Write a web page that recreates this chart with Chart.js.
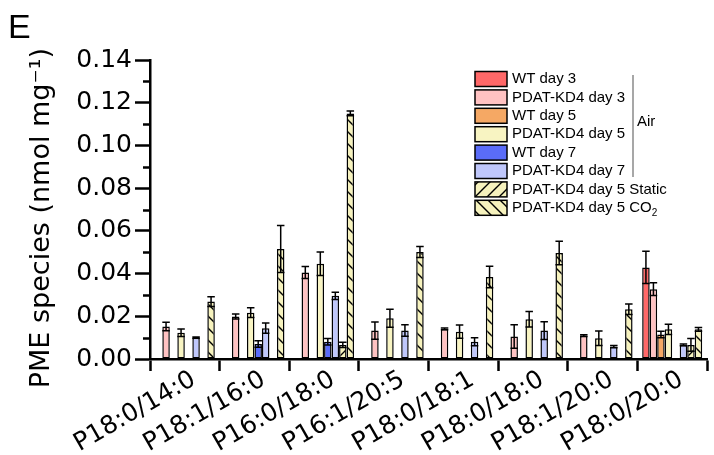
<!DOCTYPE html>
<html>
<head>
<meta charset="utf-8">
<script src="https://cdn.jsdelivr.net/npm/chart.js@4.4.0/dist/chart.umd.min.js"></script>
<style>
  html, body { margin: 0; padding: 0; background: #fff; }
  #wrap { width: 714px; height: 455px; position: relative; }
</style>
</head>
<body>
<div id="wrap"><canvas id="chartCanvas" width="714" height="455"></canvas></div>
<script>
// lipid species on the x axis
const species = ["P18:0/14:0", "P18:1/16:0", "P16:0/18:0", "P16:1/20:5", "P18:0/18:1", "P18:0/18:0", "P18:1/20:0", "P18:0/20:0"];
const seriesNames = ["WT day 3", "PDAT-KD4 day 3", "WT day 5", "PDAT-KD4 day 5", "WT day 7", "PDAT-KD4 day 7", "PDAT-KD4 day 5 Static", "PDAT-KD4 day 5 CO2"];

// means (nmol mg-1), null = not shown
const wtDay3      = [null, null, null, null, null, null, null, 0.0429];
const kdDay3      = [0.0152, 0.0199, 0.0405, 0.0133, 0.0141, 0.0105, 0.0109, 0.0327];
const wtDay5      = [null, null, null, null, null, null, null, 0.0115];
const kdDay5      = [0.0123, 0.0217, 0.0446, 0.0191, 0.0128, 0.0186, 0.0097, 0.0139];
const wtDay7      = [null, 0.0070, 0.0081, null, null, null, null, null];
const kdDay7      = [0.0100, 0.0144, 0.0296, 0.0133, 0.0081, 0.0133, 0.0058, 0.0066];
const kdDay5Stat  = [null, null, 0.0066, null, null, null, null, 0.0066];
const kdDay5Co2   = [0.0269, 0.0515, 0.1150, 0.0501, 0.0384, 0.0496, 0.0233, 0.0139];

// standard deviations
const wtDay3Sd     = [0, 0, 0, 0, 0, 0, 0, 0.0075];
const kdDay3Sd     = [0.0020, 0.0012, 0.0028, 0.0040, 0.0004, 0.0055, 0.0004, 0.0030];
const wtDay5Sd     = [0, 0, 0, 0, 0, 0, 0, 0.0015];
const kdDay5Sd     = [0.0018, 0.0023, 0.0055, 0.0042, 0.0031, 0.0036, 0.0034, 0.0024];
const wtDay7Sd     = [0, 0.0015, 0.0015, 0, 0, 0, 0, 0];
const kdDay7Sd     = [0.0003, 0.0024, 0.0017, 0.0027, 0.0019, 0.0042, 0.0005, 0.0004];
const kdDay5StatSd = [0, 0, 0.0012, 0, 0, 0, 0, 0.0030];
const kdDay5Co2Sd  = [0.0023, 0.0110, 0.0011, 0.0026, 0.0050, 0.0055, 0.0025, 0.0009];

const yTicks = [0, 0.02, 0.04, 0.06, 0.08, 0.10, 0.12, 0.14];

const canvas = document.getElementById("chartCanvas");
const ctx = canvas.getContext("2d");

const dejavu = "'DejaVu Sans', sans-serif";
const arial = "'Liberation Sans', Arial, sans-serif";

function hatch(dir) {
  const c = document.createElement("canvas");
  c.width = 12; c.height = 12;
  const g = c.getContext("2d");
  g.fillStyle = "#f6f2bd";
  g.fillRect(0, 0, 12, 12);
  g.strokeStyle = "#000";
  g.lineWidth = 1.4;
  g.beginPath();
  if (dir === "/") {
    g.moveTo(-3, 15); g.lineTo(15, -3);
    g.moveTo(-3, 3); g.lineTo(3, -3);
    g.moveTo(9, 15); g.lineTo(15, 9);
  } else {
    g.moveTo(-3, -3); g.lineTo(15, 15);
    g.moveTo(-3, 9); g.lineTo(3, 15);
    g.moveTo(9, -3); g.lineTo(15, 3);
  }
  g.stroke();
  return ctx.createPattern(c, "repeat");
}

const means = [wtDay3, kdDay3, wtDay5, kdDay5, wtDay7, kdDay7, kdDay5Stat, kdDay5Co2];
const sds = [wtDay3Sd, kdDay3Sd, wtDay5Sd, kdDay5Sd, wtDay7Sd, kdDay7Sd, kdDay5StatSd, kdDay5Co2Sd];
const fills = ["#ff6868", "#ffc2c2", "#f5a864", "#f8f4c2", "#5a6cf8", "#bfc7fb", hatch("/"), hatch("\\")];

const errorBars = {
  id: "errorBars",
  afterDatasetsDraw(chart) {
    const c = chart.ctx;
    const y = chart.scales.y;
    c.save();
    c.strokeStyle = "#000";
    c.lineWidth = 1.5;
    chart.data.datasets.forEach((ds, i) => {
      chart.getDatasetMeta(i).data.forEach((bar, j) => {
        const v = ds.data[j];
        if (v == null) return;
        const e = sds[i][j];
        const top = y.getPixelForValue(v + e);
        const bot = y.getPixelForValue(v - e);
        const half = bar.width / 2;
        c.beginPath();
        c.moveTo(bar.x, top); c.lineTo(bar.x, bot);
        c.moveTo(bar.x - half, top); c.lineTo(bar.x + half, top);
        c.moveTo(bar.x - half, bot); c.lineTo(bar.x + half, bot);
        c.stroke();
      });
    });
    c.restore();
  }
};

const extras = {
  id: "extras",
  afterDraw(chart) {
    const c = chart.ctx;
    const y = chart.scales.y;
    const left = chart.chartArea.left;
    c.save();
    // minor ticks
    c.strokeStyle = "#000";
    c.lineWidth = 2.5;
    for (let v = 0.01; v < 0.14; v += 0.02) {
      const py = Math.round(y.getPixelForValue(v)) + 0.5;
      c.beginPath();
      c.moveTo(left - 7, py); c.lineTo(left, py);
      c.stroke();
    }
    // panel letter
    c.fillStyle = "#000";
    c.font = "34px " + arial;
    c.textBaseline = "alphabetic";
    c.fillText("E", 8, 38);
    // legend
    c.font = "15px " + arial;
    c.textBaseline = "middle";
    chart.data.datasets.forEach((ds, i) => {
      const cy = 79 + i * 18.4;
      c.fillStyle = ds.backgroundColor;
      c.fillRect(475, cy - 7.5, 32, 15);
      c.strokeStyle = "#000";
      c.lineWidth = 1.5;
      c.strokeRect(475, cy - 7.5, 32, 15);
      c.fillStyle = "#000";
      if (i === 7) {
        const base = "PDAT-KD4 day 5 CO";
        c.fillText(base, 512, cy);
        const w = c.measureText(base).width;
        c.font = "10px " + arial;
        c.fillText("2", 512 + w, cy + 5);
        c.font = "15px " + arial;
      } else {
        c.fillText(ds.label, 512, cy);
      }
    });
    c.strokeStyle = "#8a8a8a";
    c.lineWidth = 1.5;
    c.beginPath();
    c.moveTo(633, 75); c.lineTo(633, 177);
    c.stroke();
    c.fillStyle = "#000";
    c.fillText("Air", 637, 122);
    c.restore();
  }
};

new Chart(ctx, {
  type: "bar",
  data: {
    labels: species,
    datasets: means.map((d, i) => ({
      label: seriesNames[i],
      data: d,
      backgroundColor: fills[i],
      borderColor: "#000",
      borderWidth: 1.5,
      borderSkipped: false,
      barPercentage: 1,
      categoryPercentage: 0.862
    }))
  },
  options: {
    responsive: false,
    animation: false,
    devicePixelRatio: 1,
    layout: { padding: { top: 60, right: 7, left: 0, bottom: 0 } },
    plugins: { legend: { display: false }, tooltip: { enabled: false } },
    scales: {
      x: {
        offset: true,
        grid: { display: true, offset: true, drawOnChartArea: false, drawTicks: true, tickLength: 12, tickWidth: 2.5, tickColor: "#000" },
        border: { display: true, color: "#000", width: 2.5 },
        ticks: { font: { family: dejavu, size: 25 }, color: "#000", minRotation: 30, maxRotation: 30, padding: -6, labelOffset: 9, autoSkip: false },
        afterFit(s) { s.height = 96; }
      },
      y: {
        min: 0,
        max: 0.14,
        afterBuildTicks(s) { s.ticks = yTicks.map(v => ({ value: v })); },
        ticks: { callback: v => v.toFixed(2), font: { family: dejavu, size: 25 }, color: "#000", padding: 3 },
        grid: { drawOnChartArea: false, tickLength: 15, tickWidth: 2.5, tickColor: "#000" },
        border: { color: "#000", width: 2.5 },
        title: { display: true, text: "PME species (nmol mg⁻¹)  ", font: { family: dejavu, size: 27 }, color: "#000", padding: { top: 26, bottom: 0 } },
        afterFit(s) { s.width = 150; }
      }
    }
  },
  plugins: [errorBars, extras]
});
</script>
</body>
</html>
